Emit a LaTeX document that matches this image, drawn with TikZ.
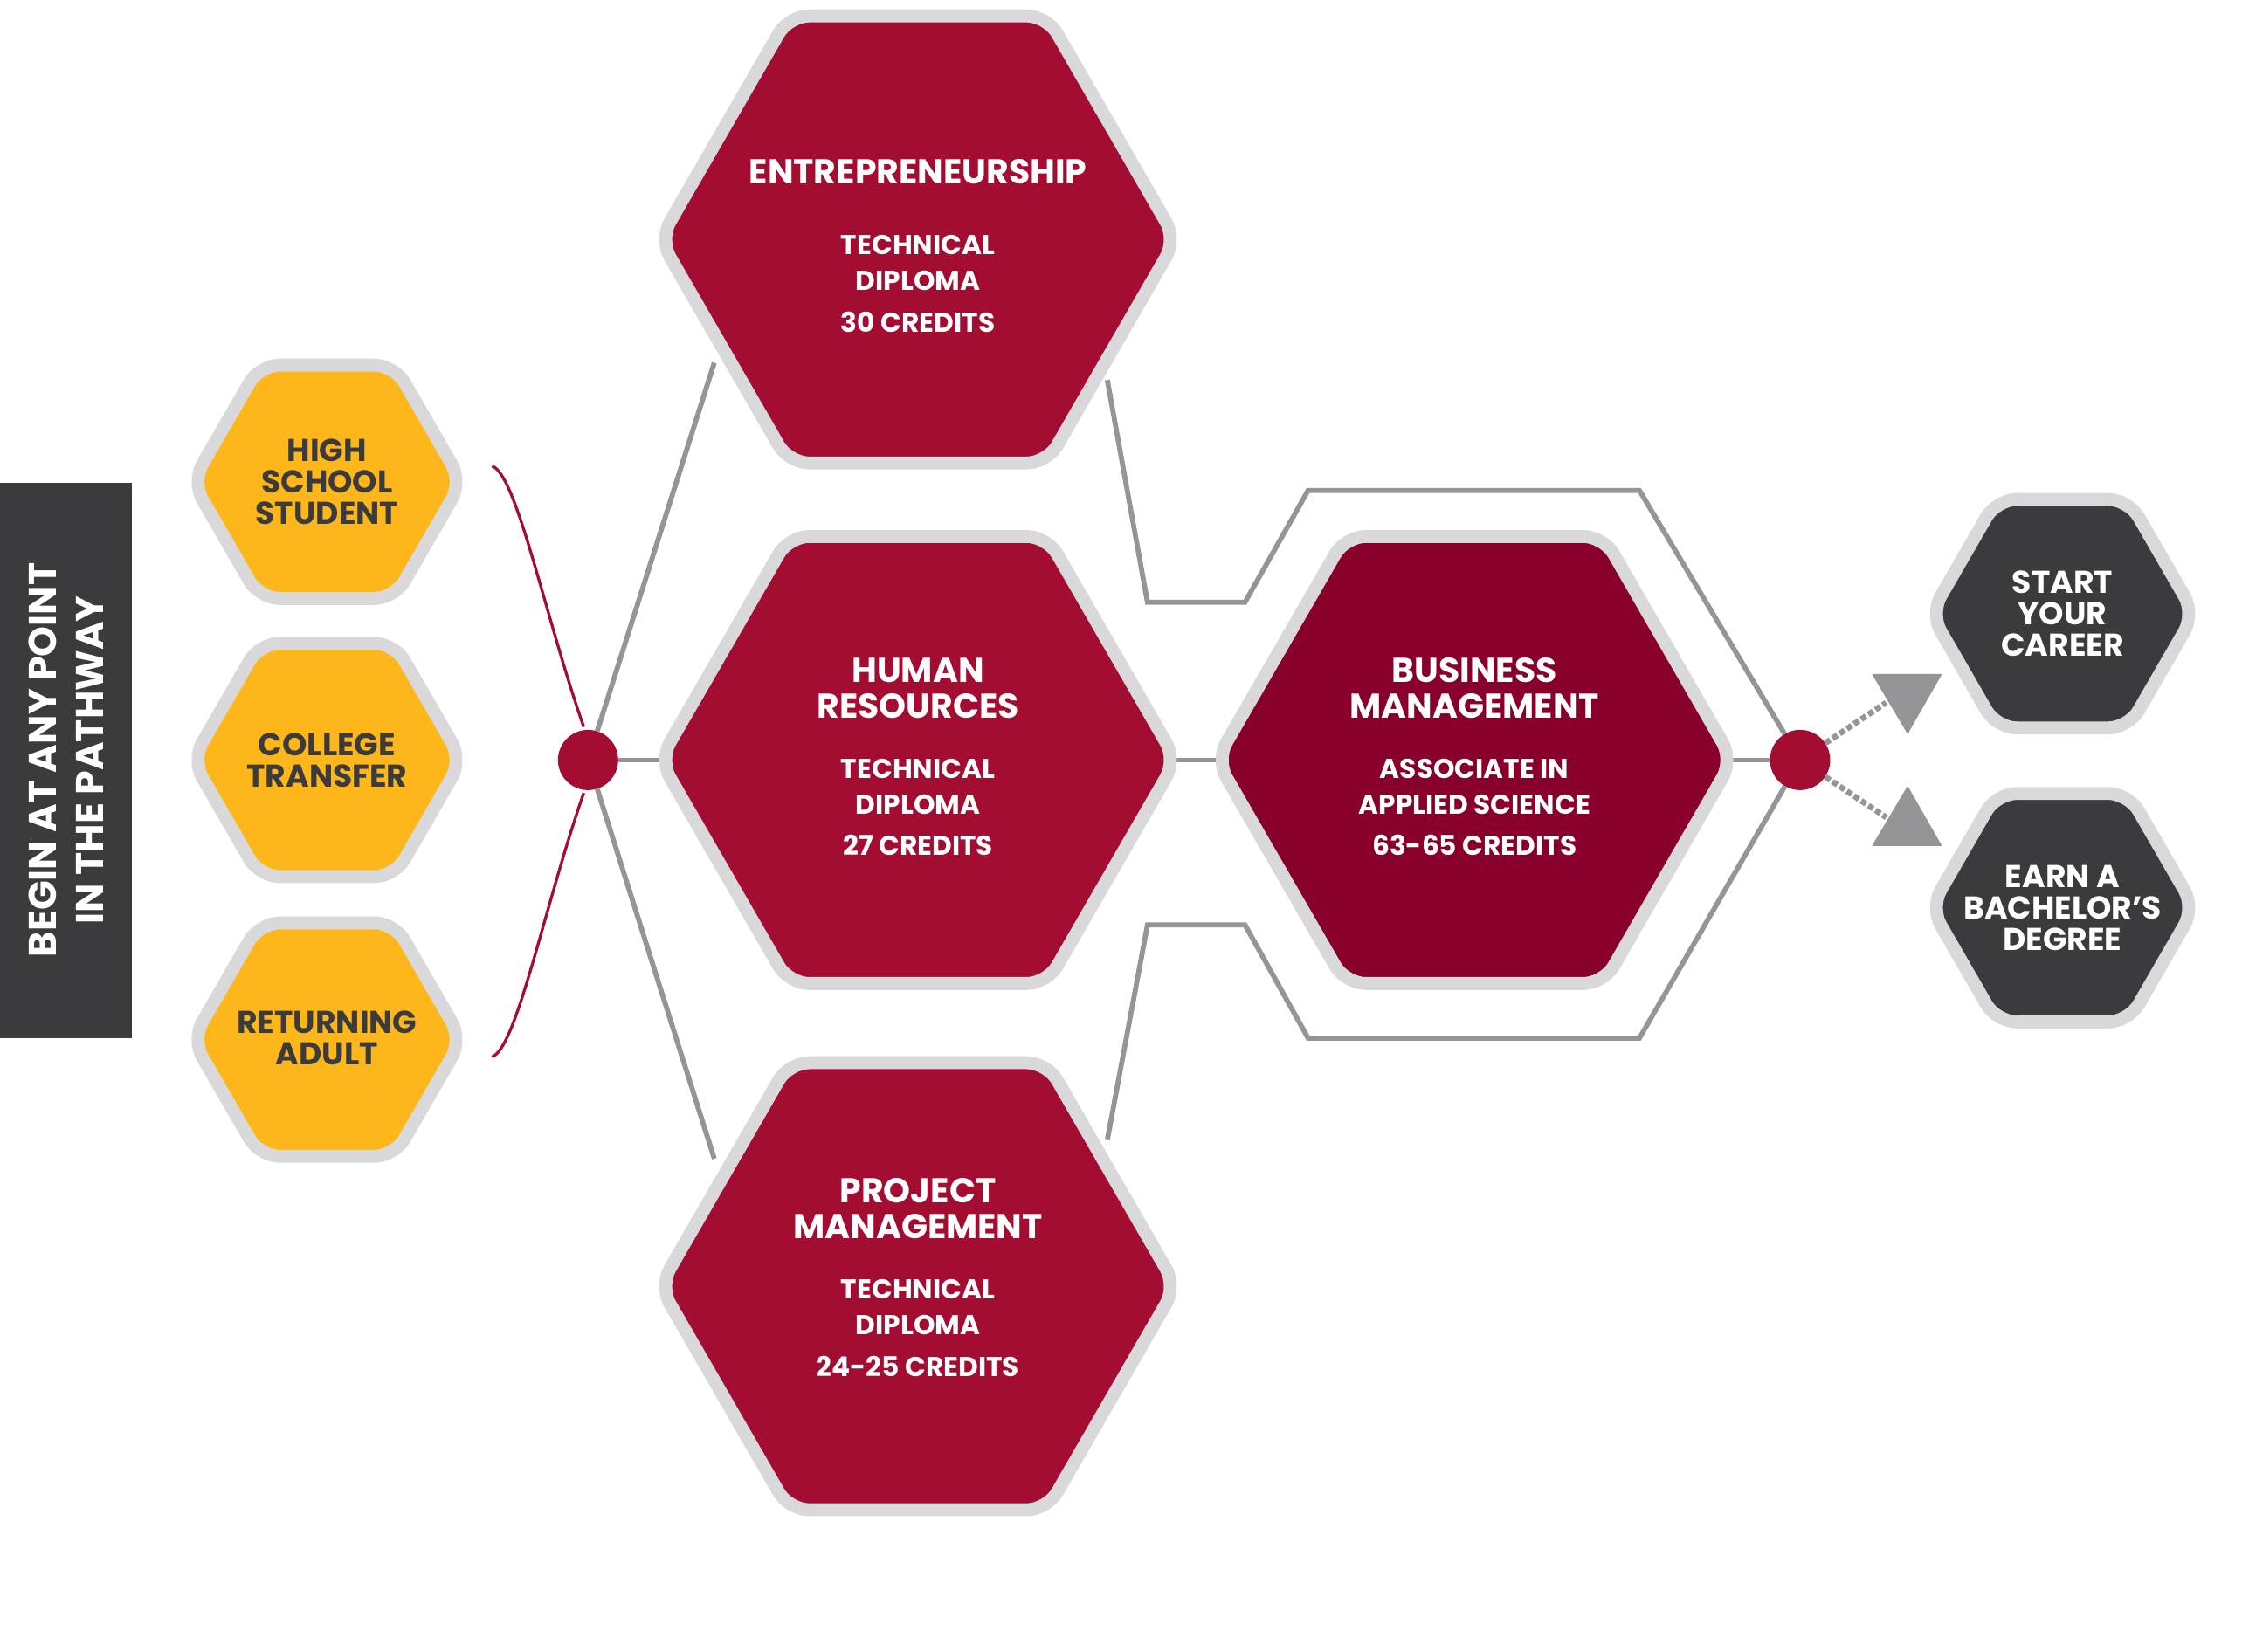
\documentclass[tikz,border=0pt]{standalone}
\usepackage{fontspec}
\setmainfont{Poppins}
\definecolor{hred}{HTML}{A30D32}
\definecolor{hdred}{HTML}{88002A}
\definecolor{hyel}{HTML}{FDB71A}
\definecolor{hdark}{HTML}{3B3B3D}
\definecolor{hrim}{HTML}{D9D9DB}
\definecolor{lgray}{HTML}{959597}
\newcommand\hexa[4]{%
  \path[draw=hrim,line width=9pt,fill=#4,rounded corners=14pt,line join=round]
    (#1+#3,#2) -- (#1+#3/2,#2+0.866*#3) -- (#1-#3/2,#2+0.866*#3) -- (#1-#3,#2)
    -- (#1-#3/2,#2-0.866*#3) -- (#1+#3/2,#2-0.866*#3) -- cycle;}
\begin{document}
\begin{tikzpicture}[x=1pt,y=-1pt,
  ttl/.style={text=white,font=\bfseries\fontsize{24}{25}\selectfont,align=center},
  sub/.style={text=white,font=\bfseries\fontsize{19}{25}\selectfont,align=center},
  ylab/.style={text=hdark,font=\bfseries\fontsize{22}{22}\selectfont,align=center},
  dlab/.style={text=white,font=\bfseries\fontsize{22}{22}\selectfont,align=center},
  gline/.style={draw=lgray,line width=3.5pt},
  dot/.style={circle,fill=hred,minimum size=42pt,inner sep=0pt}]
\useasboundingbox (0,0) rectangle (1568,1152);
% connectors
\coordinate (e1) at (498,253); \coordinate (p1) at (498,808);
\node[dot] (d1) at (410,530) {};
\node[dot] (d2) at (1255,530) {};
\draw[gline] (d1) -- (e1);
\draw[gline] (d1) -- (p1);
\draw[gline] (d1) -- (470,530);
\draw[gline] (772,265) -- (800,420) -- (868,420) -- (912,342) -- (1143,342) -- (d2);
\draw[gline] (772,795) -- (800,645) -- (868,645) -- (912,724) -- (1143,724) -- (d2);
\draw[gline] (810,530) -- (860,530);
\draw[gline] (1200,530) -- (d2);
\draw[draw=hred,line width=2pt] (343,325) .. controls (360,330) and (380,430) .. (407,507);
\draw[draw=hred,line width=2pt] (343,737) .. controls (360,732) and (380,630) .. (407,553);
\draw[lgray,line width=4pt,dotted] (d2) -- (1315,490);
\draw[lgray,line width=4pt,dotted] (d2) -- (1315,570);
\fill[lgray] (1305,470) -- (1354,470) -- (1330,512) -- cycle;
\fill[lgray] (1305,590) -- (1354,590) -- (1330,548) -- cycle;
% hexagons
\hexa{640}{167}{180}{hred}
\hexa{640}{530}{180}{hred}
\hexa{640}{897}{180}{hred}
\hexa{1028}{530}{180}{hdred}
\hexa{228}{336}{94}{hyel}
\hexa{228}{530}{94}{hyel}
\hexa{228}{725}{94}{hyel}
\hexa{1438}{428}{92}{hdark}
\hexa{1438}{633}{92}{hdark}
% texts
\node[ttl] (ent) at (640,120) {ENTREPRENEURSHIP};
\node[sub] (ents) at (640,198) {TECHNICAL\\DIPLOMA\\[4pt]30 CREDITS};
\node[ttl] (hr) at (640,480) {HUMAN\\RESOURCES};
\node[sub] (hrs) at (640,563) {TECHNICAL\\DIPLOMA\\[4pt]27 CREDITS};
\node[ttl] (pm) at (640,843) {PROJECT\\MANAGEMENT};
\node[sub] (pms) at (640,926) {TECHNICAL\\DIPLOMA\\[4pt]24-25 CREDITS};
\node[ttl] (bm) at (1028,480) {BUSINESS\\MANAGEMENT};
\node[sub] (bms) at (1028,563) {ASSOCIATE IN\\APPLIED SCIENCE\\[4pt]63-65 CREDITS};
\node[ylab] (hs) at (228,336) {HIGH\\SCHOOL\\STUDENT};
\node[ylab] (ct) at (228,530) {COLLEGE\\TRANSFER};
\node[ylab] (ra) at (228,724) {RETURNING\\ADULT};
\node[dlab] (sc) at (1438,428) {START\\YOUR\\CAREER};
\node[dlab] (bd) at (1438,633) {EARN A\\BACHELOR’S\\DEGREE};
\fill[hdark] (0,337) rectangle (92,724);
\node[rotate=90,text=white,font=\bfseries\fontsize{27}{33}\selectfont,align=center] (ban) at (46,530) {BEGIN AT ANY POINT\\IN THE PATHWAY};
\end{tikzpicture}
\end{document}
